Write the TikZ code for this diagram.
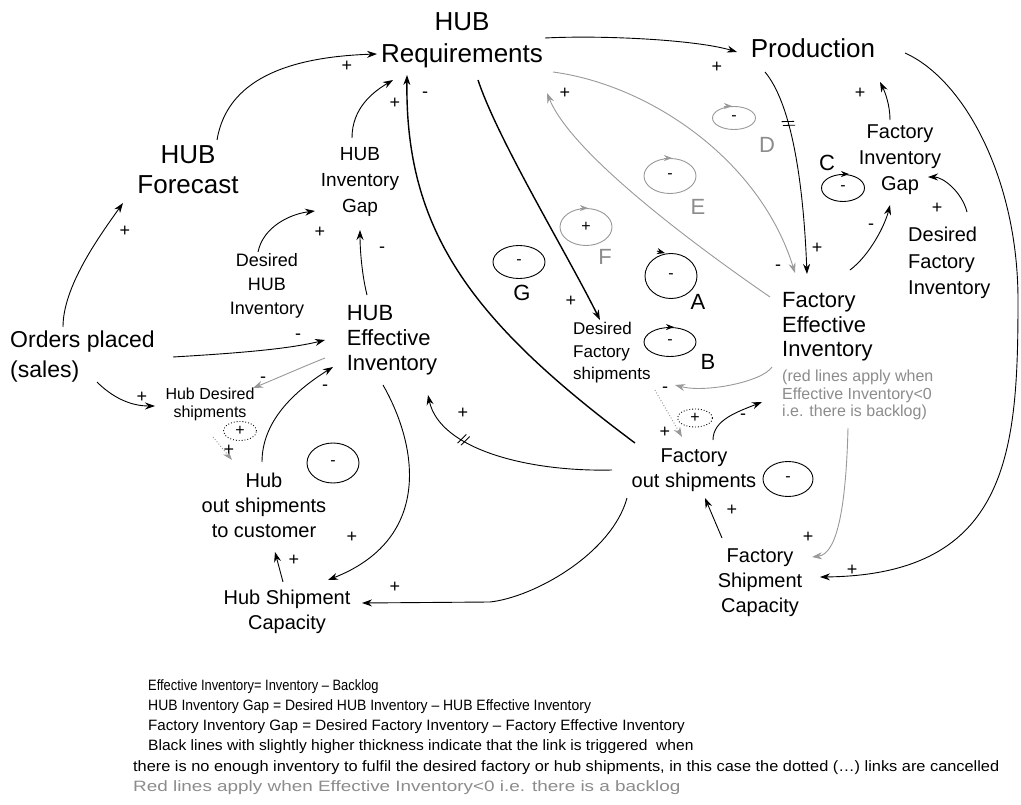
\documentclass[tikz,border=0pt]{standalone}
\usepackage{graphicx}
\usepackage{fontspec}
\setmainfont{Liberation Sans}
\usetikzlibrary{arrows.meta,shapes.geometric,decorations.markings}
\newcommand\myfs[2]{\fontsize{#1}{#2}\selectfont}
\begin{document}
\begin{tikzpicture}[x=1pt,y=-1pt,
  lbl/.style={inner sep=0pt, align=center},
  lk/.style={line width=0.9pt, -{Stealth[length=10pt,width=7pt]}},
  thk/.style={lk, line width=1.4pt},
  rd/.style={lk, draw=black!40},
  dotl/.style={rd, dotted, line width=1pt},
  sg/.style={inner sep=0pt, font=\myfs{18}{18}},
  lpc/.style={ellipse, draw, inner sep=0pt, line width=0.9pt, font=\myfs{16}{16}},
  lpl/.style={inner sep=0pt, font=\myfs{22}{22}},
  lpa/.style={-{Stealth[length=8pt,width=6pt]}, line width=0.9pt},
  leg/.style={anchor=west, inner sep=0pt, font=\myfs{15}{17}},
  hashat/.style={postaction={decorate, decoration={markings, mark=at position #1 with {\draw[-, solid, line width=0.8pt] (-3pt,-6pt) -- (0pt,6pt) (1pt,-6pt) -- (4pt,6pt);}}}}
]
\path[use as bounding box] (0,0) rectangle (1021,805);
\fill[white] (0,0) rectangle (1021,805);

% variable nodes
\node[lbl, font=\myfs{26}{32}] (req) at (462,40) {HUB\\Requirements};
\node[lbl, font=\myfs{26}{30}] (prod) at (813,48) {Production};
\node[lbl, font=\myfs{26}{30}] (fcst) at (188,170) {HUB\\Forecast};
\node[lbl, font=\myfs{19}{26}] (hgap) at (360,182) {HUB\\Inventory\\Gap};
\node[lbl, font=\myfs{18}{24}] (dhi) at (267,286) {Desired\\HUB\\Inventory};
\node[lbl, align=left, font=\myfs{22}{25}] (hei) at (392,340) {HUB\\Effective\\Inventory};
\node[lbl, align=left, anchor=west, font=\myfs{23}{30}] (orders) at (10,357) {Orders placed\\(sales)};
\node[lbl, font=\myfs{16}{18}] (hds) at (210,404) {Hub Desired\\shipments};
\node[lbl, font=\myfs{20}{25}] (hos) at (264,505) {Hub\\out shipments\\to customer};
\node[lbl, font=\myfs{20}{25}] (hsc) at (287,612) {Hub Shipment\\Capacity};
\node[lbl, font=\myfs{20}{25}] (fos) at (694,470) {Factory\\out shipments};
\node[lbl, font=\myfs{20}{25}] (fsc) at (760,583) {Factory\\Shipment\\Capacity};
\node[lbl, align=left, anchor=west, font=\myfs{22}{24.5}] (fei) at (782,327) {Factory\\Effective\\Inventory};
\node[lbl, align=left, anchor=west, font=\myfs{16}{17.5}, text=black!45] (note) at (782,395) {(red lines apply when\\Effective Inventory<0\\i.e. there is backlog)};
\node[lbl, align=left, anchor=west, font=\myfs{17}{22.5}] (dfs) at (573,353) {Desired\\Factory\\shipments};
\node[lbl, font=\myfs{20}{26}] (fgap) at (900,160) {Factory\\Inventory\\Gap};
\node[lbl, align=left, anchor=west, font=\myfs{20}{26.5}] (dfi) at (908,263) {Desired\\Factory\\Inventory};

% loop markers
\node[lpc, draw=black!40, minimum width=43pt, minimum height=23pt] (eD) at (734,118) {-};
\node[lpc, draw=black!40, minimum width=52pt, minimum height=35pt] (eE) at (670,176) {-};
\node[lpc, draw=black!40, minimum width=52pt, minimum height=37pt] (eF) at (586,227) {+};
\node[lpc, minimum width=52pt, minimum height=33pt] (eG) at (519,262) {-};
\node[lpc, minimum width=52pt, minimum height=45pt] (eA) at (671,276) {-};
\node[lpc, minimum width=52pt, minimum height=29pt] (eB) at (670,342) {-};
\node[lpc, minimum width=43pt, minimum height=27pt] (eC) at (843,188) {-};
\node[lpc, dotted, minimum width=35pt, minimum height=18pt] (eP1) at (695,418) {+};
\node[lpc, minimum width=50pt, minimum height=35pt] (eM1) at (788,479) {-};
\node[lpc, minimum width=52pt, minimum height=40pt] (eM2) at (333,463) {-};
\node[lpc, dotted, minimum width=33pt, minimum height=19pt] (eP2) at (240,431) {+};
\draw[lpa, black!40] ([xshift=-10pt]eD.north) -- ([xshift=-2pt]eD.north);
\draw[lpa, black!40] ([xshift=-6pt]eE.north) -- ([xshift=2pt]eE.north);
\draw[lpa, black!40] ([xshift=-6pt]eF.north) -- ([xshift=2pt]eF.north);
\draw[lpa] ([xshift=-14pt,yshift=2pt]eA.north) -- ([xshift=-6pt]eA.north);
\draw[lpa] ([xshift=-4pt]eB.north) -- ([xshift=4pt]eB.north);
\draw[lpa] ([xshift=-4pt]eC.north) -- ([xshift=6pt]eC.north);

\node[lpl, text=black!45] (lD) at (767,145) {D};
\node[lpl, text=black!45] (lE) at (698,207) {E};
\node[lpl, text=black!45] (lF) at (605,257) {F};
\node[lpl] (lG) at (522,293) {G};
\node[lpl] (lA) at (698,302) {A};
\node[lpl] (lB) at (708,362) {B};
\node[lpl] (lC) at (827,163) {C};

% connectors
\draw[lk] ([shift={(29,-30)}]fcst.center) .. controls +(10,-60) and +(-90,3) .. ([shift={(-85,14)}]req.center);
\draw[lk] ([shift={(53,-30)}]orders.west) .. controls +(0,-40) and +(-25,35) .. ([shift={(-65,33)}]fcst.center);
\draw[lk] ([shift={(-9,-34)}]dhi.center) .. controls +(5,-25) and +(-25,3) .. ([shift={(-45,29)}]hgap.center);
\draw[lk] ([shift={(-8,-44)}]hgap.center) .. controls +(0,-30) and +(-20,12) .. ([shift={(-69,40)}]req.center);
\draw[lk] ([shift={(-25,-45)}]hei.center) .. controls +(-5,-20) and +(0,20) .. ([shift={(0,48)}]hgap.center);
\draw[thk] ([shift={(-59,-27)}]fos.center) .. controls +(-165,-123) and +(-2,155) .. ([shift={(-55,35)}]req.center);
\draw[thk] ([shift={(16,40)}]req.center) .. controls +(20,60) and +(-35,-70) .. ([shift={(27,-33)}]dfs.west);
\draw[lk] ([shift={(83,-2)}]req.center) .. controls +(60,-3) and +(-40,-12) .. ([shift={(-76,4)}]prod.center);
\draw[rd] ([shift={(91,32)}]req.center) .. controls +(97,13) and +(-35,-113) .. ([shift={(13,-54)}]fei.west);
\draw[rd] ([shift={(-12,-30)}]fei.west) .. controls +(-90,-62) and +(23,57) .. ([shift={(85,53)}]req.center);
\draw[lk, hashat=0.27] ([shift={(-48,24)}]prod.center) .. controls +(25,30) and +(-4,-100) .. ([shift={(25,-53)}]fei.west);
\draw[lk] ([shift={(-10,-40)}]fgap.center) .. controls +(0,-15) and +(5,10) .. ([shift={(67,34)}]prod.center);
\draw[lk] ([shift={(68,-57)}]fei.west) .. controls +(20,-15) and +(-5,20) .. ([shift={(-10,45)}]fgap.center);
\draw[lk] ([shift={(59,-51)}]dfi.west) .. controls +(-5,-20) and +(15,0) .. ([shift={(28,17)}]fgap.center);
\draw[lk] ([shift={(92,5)}]prod.center) .. controls +(60,27) and +(0,-120) .. ++(113,247) .. controls +(0,150) and +(190,-2) .. ([shift={(60,-6)}]fsc.center);
\draw[rd] ([shift={(66,101)}]fei.west) .. controls +(-2,80) and +(25,-3) .. ([shift={(52,-26)}]fsc.center);
\draw[lk] ([shift={(-38,-45)}]fsc.center) -- ([shift={(11,28)}]fos.center);
\draw[lk] ([shift={(19,-30)}]fos.center) .. controls +(0,-20) and +(-25,10) .. ([shift={(-20,75)}]fei.west);
\draw[rd] ([shift={(-10,40)}]fei.west) .. controls +(-10,15) and +(30,8) .. ([shift={(102,32)}]dfs.west);
\draw[dotl] ([shift={(82,37)}]dfs.west) -- ([shift={(-12,-33)}]fos.center);
\draw[lk, hashat=0.72] ([shift={(-82,0)}]fos.center) .. controls +(-82,2) and +(12,55) .. ([shift={(36,55)}]hei.center);
\draw[lk] ([shift={(-67,28)}]fos.center) .. controls +(-15,55) and +(45,-5) .. ++(-137,104) -- ([shift={(75,-9)}]hsc.center);
\draw[lk] ([shift={(-9,45)}]hei.center) .. controls +(37,65) and +(102,-40) .. ([shift={(41,-32)}]hsc.center);
\draw[lk] ([shift={(-4,-30)}]hsc.center) -- ([shift={(11,47)}]hos.center);
\draw[lk] ([shift={(163,0)}]orders.west) .. controls +(50,-3) and +(-40,10) .. ([shift={(-67,0)}]hei.center);
\draw[lk] ([shift={(87,25)}]orders.west) .. controls +(15,15) and +(-25,0) .. ([shift={(-55,2)}]hds.center);
\draw[rd] ([shift={(-67,18)}]hei.center) .. controls +(-25,10) and +(20,-8) .. ([shift={(43,-16)}]hds.center);
\draw[lk] ([shift={(-2,-43)}]hos.center) .. controls +(0,-40) and +(-40,25) .. ([shift={(-59,27)}]hei.center);
\draw[dotl] ([shift={(3,33)}]hds.center) -- ([shift={(-32,-45)}]hos.center);

% polarity signs
\node[sg] (s1) at (347,66) {+};
\node[sg] (s2) at (125,231) {+};
\node[sg] (s3) at (320,232) {+};
\node[sg] (s4) at (395,103) {+};
\node[sg] (s5) at (382,250) {-};
\node[sg] (s6) at (425,95) {-};
\node[sg] (s7) at (571,301) {+};
\node[sg] (s8) at (717,67) {+};
\node[sg] (s9) at (778,268) {-};
\node[sg] (s10) at (565,93) {+};
\node[sg] (s11) at (817,248) {+};
\node[sg] (s12) at (860,93) {+};
\node[sg] (s13) at (871,227) {-};
\node[sg] (s14) at (937,208) {+};
\node[sg] (s15) at (852,570) {+};
\node[sg] (s16) at (808,537) {+};
\node[sg] (s17) at (732,510) {+};
\node[sg] (s18) at (743,417) {-};
\node[sg] (s19) at (665,390) {-};
\node[sg] (s20) at (665,432) {+};
\node[sg] (s21) at (463,413) {+};
\node[sg] (s22) at (395,587) {+};
\node[sg] (s23) at (352,537) {+};
\node[sg] (s24) at (294,560) {+};
\node[sg] (s25) at (298,337) {-};
\node[sg] (s26) at (142,397) {+};
\node[sg] (s27) at (263,380) {-};
\node[sg] (s28) at (325,388) {-};
\node[sg] (s29) at (229,450) {+};

% legend
\node[leg] (l1) at (148,687) {\scalebox{0.86}[1]{Effective Inventory= Inventory -- Backlog}};
\node[leg] (l2) at (148,707) {\scalebox{0.93}[1]{HUB Inventory Gap = Desired HUB Inventory -- HUB Effective Inventory}};
\node[leg] (l3) at (148,727) {\scalebox{1.01}[1]{Factory Inventory Gap = Desired Factory Inventory -- Factory Effective Inventory}};
\node[leg] (l4) at (148,747) {\scalebox{1.04}[1]{Black lines with slightly higher thickness indicate that the link is triggered\ \ when}};
\node[leg] (l5) at (133,768) {\scalebox{1.09}[1]{there is no enough inventory to fulfil the desired factory or hub shipments, in this case the dotted (\dots) links are cancelled}};
\node[leg, text=black!45] (l6) at (133,788) {\scalebox{1.26}[1]{Red lines apply when Effective Inventory<0 i.e. there is a backlog}};
\end{tikzpicture}
\end{document}
